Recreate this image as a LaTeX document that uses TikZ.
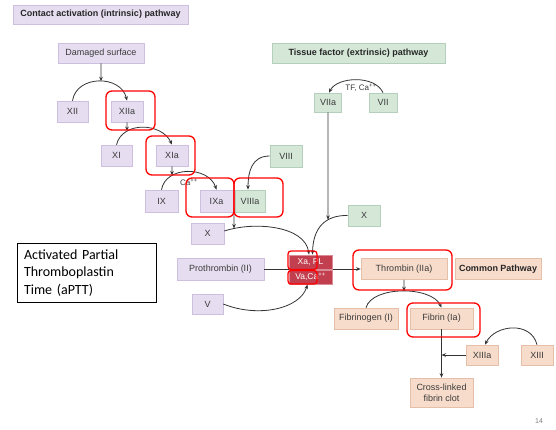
\documentclass[tikz,border=0pt]{standalone}
\usepackage{fontspec}
\setmainfont{Liberation Sans}
\newfontfamily\calib{Carlito}
\usetikzlibrary{arrows.meta,intersections,calc}

\definecolor{lav}{HTML}{E6DEF0}
\definecolor{lavd}{HTML}{CDBFE0}
\definecolor{grn}{HTML}{D5E8D8}
\definecolor{grnd}{HTML}{B5D0BA}
\definecolor{pch}{HTML}{F8DCCB}
\definecolor{pchd}{HTML}{E6BFA9}
\definecolor{xred}{HTML}{C23F4F}
\definecolor{ink}{HTML}{3A3A3A}
\definecolor{wire}{HTML}{333333}

\begin{document}
\begin{tikzpicture}[x=1pt,y=-1pt,
  box/.style={draw, line width=0.6pt, inner sep=0pt, text=ink,
    font=\fontsize{9}{10}\selectfont, minimum width=32pt, minimum height=21pt},
  lavbox/.style={box, fill=lav, draw=lavd},
  grnbox/.style={box, fill=grn, draw=grnd},
  pchbox/.style={box, fill=pch, draw=pchd},
  headbox/.style={font=\bfseries\fontsize{9}{10}\selectfont, text=black!85},
  redbox/.style={box, fill=xred, draw=xred!60!white, line width=0.4pt, text=white,
    font=\fontsize{8.5}{9}\selectfont, minimum width=43pt, minimum height=14.5pt},
  hl/.style={draw=red, line width=1.3pt, rounded corners=6pt},
  conn/.style={draw=wire, line width=0.8pt},
  arr/.style={conn, -{Stealth[length=4.5pt,width=3.6pt]}},
  small/.style={text=ink, font=\fontsize{8}{9}\selectfont, inner sep=0pt},
]
\useasboundingbox (0,0) rectangle (556,429);

% ---- intrinsic pathway ----
\node[lavbox, headbox, minimum width=175pt, minimum height=19pt] (ttlA) at (100.5,14.5) {Contact activation (intrinsic) pathway};
\node[lavbox, minimum width=86pt, minimum height=20pt] (dmg) at (101,53) {Damaged surface};
\node[lavbox, minimum width=31pt] (XII)  at (72.5,111.5) {XII};
\node[lavbox] (XIIa) at (127,111.5) {XIIa};
\node[lavbox, minimum width=31pt] (XI)   at (116.5,155.5) {XI};
\node[lavbox] (XIa)  at (172,155.5) {XIa};
\node[lavbox, minimum width=33pt, minimum height=22pt] (IX)  at (161.5,201) {IX};
\node[lavbox, minimum width=33pt, minimum height=22pt] (IXa) at (216.5,201) {IXa};
\node[grnbox, minimum width=30pt, minimum height=22pt] (VIIIa) at (250,201) {VIIIa};
\node[grnbox, minimum height=22pt] (VIII) at (286,156) {VIII};
\node[lavbox, minimum width=33pt] (X1) at (207.5,233.5) {X};
\node[lavbox, minimum width=87pt, minimum height=22pt] (Pro) at (220.5,269) {Prothrombin (II)};
\node[lavbox, minimum width=31pt, minimum height=20pt] (V) at (207.5,304) {V};

% ---- extrinsic pathway ----
\node[grnbox, headbox, minimum width=173pt, minimum height=20pt] (ttlB) at (358.5,53) {Tissue factor (extrinsic) pathway};
\node[grnbox, minimum width=27pt, minimum height=19pt] (VIIa) at (328,102.5) {VIIa};
\node[grnbox, minimum width=28pt, minimum height=19pt] (VII)  at (383,102.5) {VII};
\node[grnbox] (X2) at (364,215.5) {X};

% ---- common pathway ----
\node[pchbox, minimum width=86pt] (Thr) at (404,269) {Thrombin (IIa)};
\node[pchbox, headbox, minimum width=86pt] (CP) at (498,269) {Common Pathway};
\node[pchbox, minimum width=64pt] (Fbg) at (366,318.5) {Fibrinogen (I)};
\node[pchbox, minimum width=63pt] (Fbn) at (441.5,318.5) {Fibrin (Ia)};
\node[pchbox, minimum height=20pt] (XIIIa) at (482,355) {XIIIa};
\node[pchbox, minimum height=20pt] (XIII)  at (537,355) {XIII};
\node[pchbox, minimum width=63pt, minimum height=29pt, align=center,
      font=\fontsize{9}{11}\selectfont] (Clot) at (441.5,392.5) {Cross-linked\\fibrin clot};

% prothrombin to thrombin, passing under the prothrombinase complex
\draw[arr] (Pro.east) -- (Thr.west);
\node[redbox] (Xa) at (310.5,262) {Xa, PL};
\node[redbox] (Va) at (310.5,277) {Va,Ca\textsuperscript{++}};

% ---- connectors ----
% XII -> XIIa on the damaged surface
\draw[arr, name path=cXII] (XII.north) .. controls +(4,-26) and +(-6,-26) .. (XIIa.north);
\path[name path=vDmg] (dmg.south) -- ++(0,40);
\draw[arr, name intersections={of=cXII and vDmg, by=pDmg}] (dmg.south) -- (pDmg);

% XI -> XIa driven by XIIa
\draw[arr, name path=cXI] (XI.north) .. controls +(6,-24) and +(-10,-22) .. (XIa.north);
\path[name path=vXIIa] (XIIa.south) -- ++(0,40);
\draw[arr, name intersections={of=cXI and vXIIa, by=pXIIa}] (XIIa.south) -- (pXIIa);

% IX -> IXa driven by XIa
\draw[arr, name path=cIX] (IX.north) .. controls +(4,-24) and +(-8,-24) .. (IXa.north);
\path[name path=vXIa] (XIa.south) -- ++(0,40);
\draw[arr, name intersections={of=cIX and vXIa, by=pXIa}] (XIa.south) -- (pXIa);
\node[small] (ca1) at (189,182) {Ca\textsuperscript{++}};

% VIII -> VIIIa
\draw[arr] (VIII.west) .. controls +(-18,0) and +(0,-18) .. ([xshift=-2pt]VIIIa.north);

% X (intrinsic) -> Xa, driven by IXa/VIIIa
\coordinate (jn) at ($(IXa.south east)!0.5!(VIIIa.south west)$);
\draw[arr, name path=cX1] ([yshift=2.5pt]X1.east) .. controls (255,221) and (305,226) .. ([xshift=-1.5pt]Xa.north);
\path[name path=vJn] (jn) -- ++(0,40);
\draw[arr, name intersections={of=cX1 and vJn, by=pJn}] (jn) -- (pJn);

% VII -> VIIa
\draw[arr] (VII.north) .. controls +(-8,-18) and +(8,-16) .. ([xshift=1pt]VIIa.north);
\node[small] (tf) at (361,88) {TF, Ca\textsuperscript{++}};

% X (extrinsic) -> Xa, driven by VIIa
\draw[arr, name path=cX2] (X2.west) .. controls (325,215) and (313,228) .. ([xshift=2pt]Xa.north);
\path[name path=vVIIa] (VIIa.south) -- ++(0,150);
\draw[arr, name intersections={of=cX2 and vVIIa, by=pVIIa}] (VIIa.south) -- (pVIIa);

% V -> Va
\draw[arr] (V.east) .. controls (258,318) and (300,309) .. ([xshift=-3pt]Va.south);

% fibrinogen -> fibrin driven by thrombin
\draw[arr, name path=cFbg] (Fbg.north) .. controls +(6,-22) and +(-10,-22) .. (Fbn.north);
\path[name path=vThr] (Thr.south) -- ++(0,40);
\draw[arr, name intersections={of=cFbg and vThr, by=pThr}] (Thr.south) -- (pThr);

% fibrin -> cross-linked clot, with XIIIa
\draw[arr] (Fbn.south) -- (Clot.north);
\draw[arr] (XIIIa.west) -- (XIIIa.west -| Fbn.south);
\draw[arr] (XIII.north) .. controls +(-6,-24) and +(10,-20) .. ([xshift=3pt]XIIIa.north);

% ---- highlights ----
\draw[hl] (106,91) rectangle (155,130);
\draw[hl] (146,136) rectangle (195,175);
\draw[hl] (186,178) rectangle (234,217);
\draw[hl] (234,178) rectangle (283,217);
\draw[hl, rounded corners=3pt] (288,251) rectangle (317,269.5);
\draw[hl, rounded corners=3pt] (288,270.5) rectangle (317,284);
\draw[hl] (353,250) rectangle (452,290);
\draw[hl] (407,303) rectangle (480,337);

% ---- note box and page number ----
\node[draw=black, line width=0.8pt, fill=white, minimum width=139pt, minimum height=59pt,
      text width=125pt, inner xsep=7pt, align=left,
      font=\calib\fontsize{14}{17.5}\selectfont] (aptt) at (86.5,273)
      {Activated Partial\\Thromboplastin\\Time (aPTT)};
\node[text=black!50, font=\fontsize{7}{8}\selectfont] (pg) at (539,421) {14};
\end{tikzpicture}
\end{document}
